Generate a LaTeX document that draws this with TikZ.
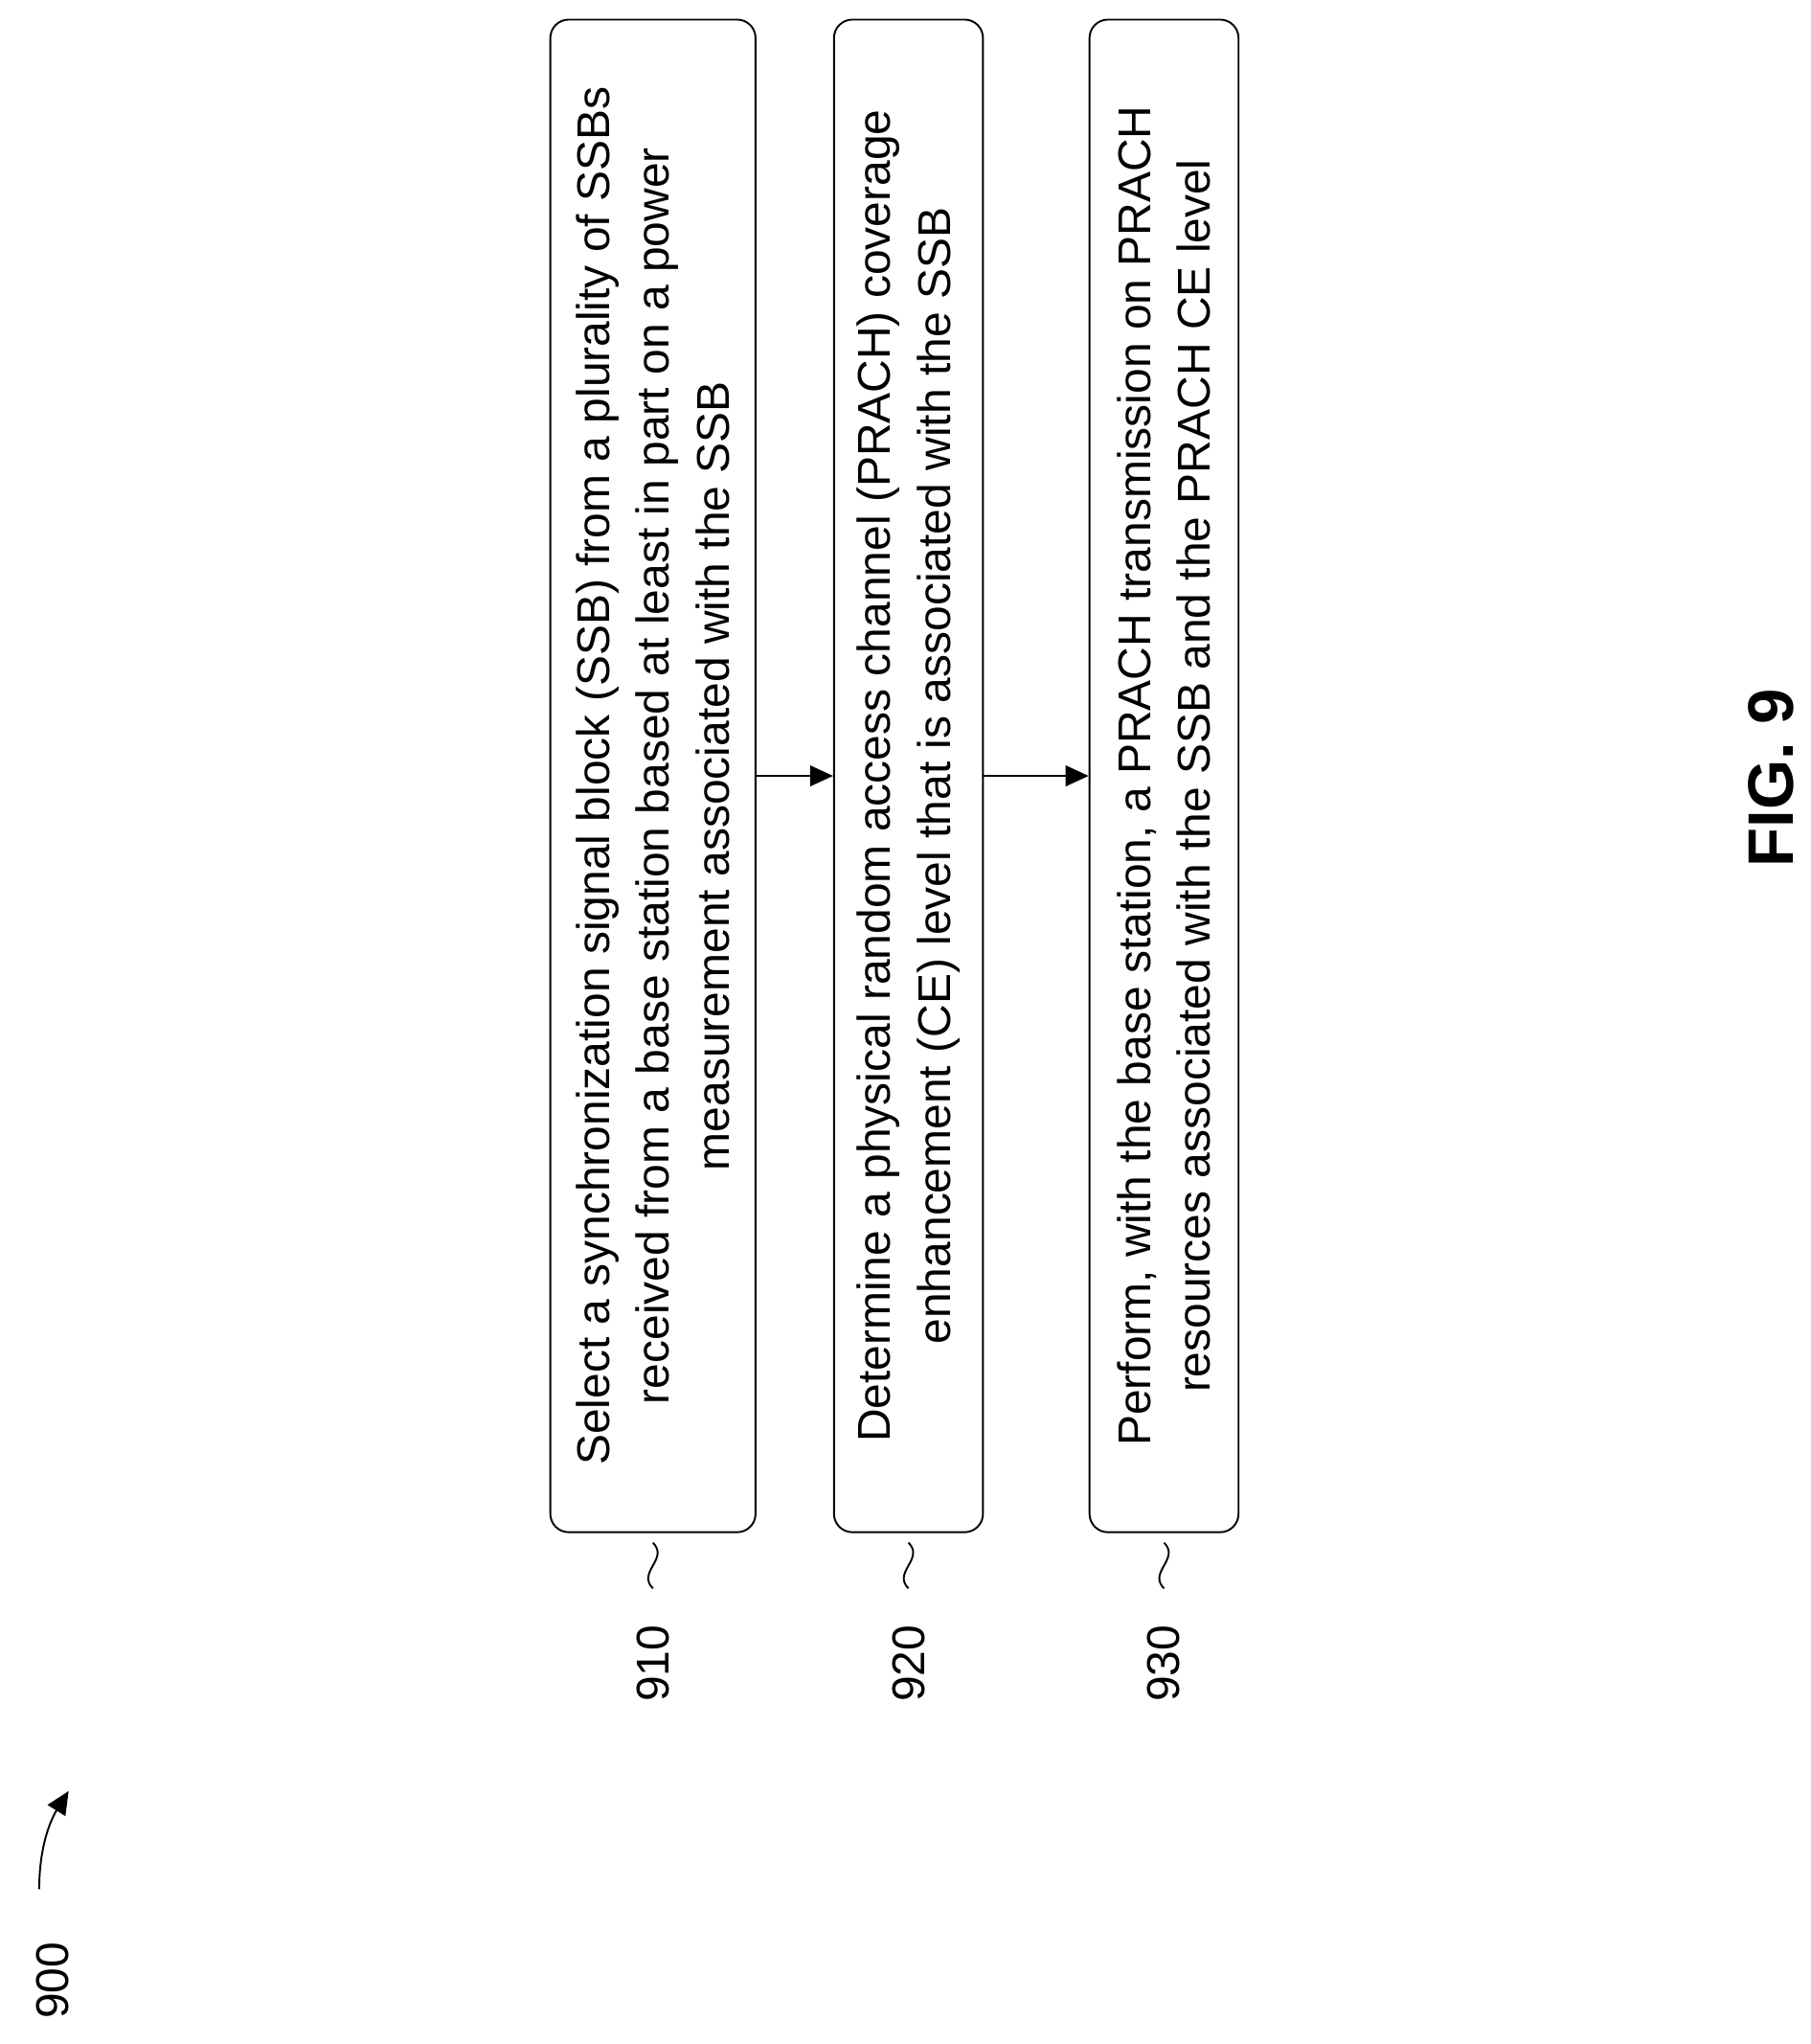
\documentclass[tikz,border=0pt]{standalone}
\usepackage{fontspec}
\setmainfont{Liberation Sans}
\usetikzlibrary{arrows.meta}

\tikzset{
	stepbox/.style={draw,thick,rounded corners=8pt,rotate=90,align=center,
		minimum width=23.14cm,font=\fontsize{20}{26}\selectfont},
	reflabel/.style={rotate=90,font=\fontsize{20}{24}\selectfont},
	flow/.style={-{Triangle[length=10pt,width=9pt]},thick},
}

\begin{document}
\begin{tikzpicture}
	\useasboundingbox (0,0) rectangle (27.7,-31.27);
	% process steps
	\node [stepbox,minimum height=3.14cm] (b1) at (9.99,-11.87) {Select a synchronization signal block (SSB) from a plurality of SSBs\\received from a base station based at least in part on a power\\measurement associated with the SSB};
	\node [stepbox,minimum height=2.28cm] (b2) at (13.9,-11.87) {Determine a physical random access channel (PRACH) coverage\\enhancement (CE) level that is associated with the SSB};
	\node [stepbox,minimum height=2.28cm] (b3) at (17.81,-11.87) {Perform, with the base station, a PRACH transmission on PRACH\\resources associated with the SSB and the PRACH CE level};
	\draw [flow] (b1.south) -- (b2.north);
	\draw [flow] (b2.south) -- (b3.north);
	% reference numerals
	\foreach \n/\x in {910/9.99,920/13.9,930/17.81}{
		\node [reflabel] (l\n) at (\x,-25.45) {\n};
		\draw [thick] (\x,-23.6) .. controls (\x+0.25,-23.85) and (\x-0.25,-24.05) .. (\x,-24.3);
	}
	\node [reflabel] (fig) at (0.8,-30.3) {900};
	\coordinate (tip) at (1.05,-27.4);
	\draw [flow] (0.6,-28.9) .. controls (0.6,-28.2) and (0.8,-27.8) .. (tip);
	\node [rotate=90,font=\bfseries\fontsize{28}{32}\selectfont] (cap) at (27.1,-11.9) {FIG. 9};
\end{tikzpicture}
\end{document}
